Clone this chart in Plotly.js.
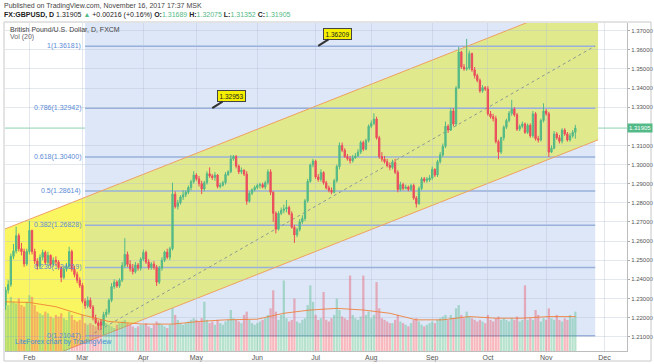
<!DOCTYPE html>
<html><head><meta charset="utf-8">
<script src="https://cdn.plot.ly/plotly-3.0.1.min.js"></script>
<style>html,body{margin:0;padding:0;background:#fff}#chart{width:654px;height:364px}</style>
</head><body><div id="chart"></div>
<script>
const dates = [
'2017-01-19','2017-01-20','2017-01-23','2017-01-24','2017-01-25','2017-01-26','2017-01-27','2017-01-30','2017-01-31',
'2017-02-01','2017-02-02','2017-02-03','2017-02-06','2017-02-07','2017-02-08','2017-02-09','2017-02-10','2017-02-13','2017-02-14','2017-02-15','2017-02-16','2017-02-17','2017-02-20','2017-02-21','2017-02-22','2017-02-23','2017-02-24','2017-02-27','2017-02-28',
'2017-03-01','2017-03-02','2017-03-03','2017-03-06','2017-03-07','2017-03-08','2017-03-09','2017-03-10','2017-03-13','2017-03-14','2017-03-15','2017-03-16','2017-03-17','2017-03-20','2017-03-21','2017-03-22','2017-03-23','2017-03-24','2017-03-27','2017-03-28','2017-03-29','2017-03-30','2017-03-31',
'2017-04-03','2017-04-04','2017-04-05','2017-04-06','2017-04-07','2017-04-10','2017-04-11','2017-04-12','2017-04-13','2017-04-14','2017-04-17','2017-04-18','2017-04-19','2017-04-20','2017-04-21','2017-04-24','2017-04-25','2017-04-26','2017-04-27','2017-04-28',
'2017-05-01','2017-05-02','2017-05-03','2017-05-04','2017-05-05','2017-05-08','2017-05-09','2017-05-10','2017-05-11','2017-05-12','2017-05-15','2017-05-16','2017-05-17','2017-05-18','2017-05-19','2017-05-22','2017-05-23','2017-05-24','2017-05-25','2017-05-26','2017-05-29','2017-05-30','2017-05-31',
'2017-06-01','2017-06-02','2017-06-05','2017-06-06','2017-06-07','2017-06-08','2017-06-09','2017-06-12','2017-06-13','2017-06-14','2017-06-15','2017-06-16','2017-06-19','2017-06-20','2017-06-21','2017-06-22','2017-06-23','2017-06-26','2017-06-27','2017-06-28','2017-06-29','2017-06-30',
'2017-07-03','2017-07-04','2017-07-05','2017-07-06','2017-07-07','2017-07-10','2017-07-11','2017-07-12','2017-07-13','2017-07-14','2017-07-17','2017-07-18','2017-07-19','2017-07-20','2017-07-21','2017-07-24','2017-07-25','2017-07-26','2017-07-27','2017-07-28','2017-07-31',
'2017-08-01','2017-08-02','2017-08-03','2017-08-04','2017-08-07','2017-08-08','2017-08-09','2017-08-10','2017-08-11','2017-08-14','2017-08-15','2017-08-16','2017-08-17','2017-08-18','2017-08-21','2017-08-22','2017-08-23','2017-08-24','2017-08-25','2017-08-28','2017-08-29','2017-08-30','2017-08-31',
'2017-09-01','2017-09-04','2017-09-05','2017-09-06','2017-09-07','2017-09-08','2017-09-11','2017-09-12','2017-09-13','2017-09-14','2017-09-15','2017-09-18','2017-09-19','2017-09-20','2017-09-21','2017-09-22','2017-09-25','2017-09-26','2017-09-27','2017-09-28','2017-09-29',
'2017-10-02','2017-10-03','2017-10-04','2017-10-05','2017-10-06','2017-10-09','2017-10-10','2017-10-11','2017-10-12','2017-10-13','2017-10-16','2017-10-17','2017-10-18','2017-10-19','2017-10-20','2017-10-23','2017-10-24','2017-10-25','2017-10-26','2017-10-27','2017-10-30','2017-10-31',
'2017-11-01','2017-11-02','2017-11-03','2017-11-06','2017-11-07','2017-11-08','2017-11-09','2017-11-10','2017-11-13','2017-11-14','2017-11-15','2017-11-16'
];
const open = [
1.2266,1.2344,1.2372,1.2520,1.2548,1.2628,1.2560,1.2545,1.2480,1.2545,
1.2655,1.2545,1.2495,1.2468,1.2515,1.2540,1.2488,1.2525,1.2478,1.2500,
1.2490,1.2462,1.2410,1.2452,1.2468,1.2545,1.2452,1.2425,1.2395,1.2368,
1.2285,1.2262,1.2290,1.2255,1.2198,1.2172,1.2175,1.2158,1.2215,1.2228,
1.2290,1.2362,1.2385,1.2365,1.2395,1.2472,1.2530,1.2478,1.2455,1.2440,
1.2475,1.2458,1.2505,1.2540,1.2490,1.2462,1.2480,1.2462,1.2385,1.2458,
1.2500,1.2542,1.2515,1.2560,1.2845,1.2780,1.2800,1.2830,1.2842,1.2855,
1.2880,1.2910,1.2945,1.2925,1.2900,1.2872,1.2905,1.2952,1.2940,1.2932,
1.2945,1.2885,1.2892,1.2905,1.2948,1.2962,1.3030,1.3042,1.2992,1.2962,
1.2970,1.2950,1.2808,1.2850,1.2868,1.2880,1.2890,1.2895,1.2882,1.2905,
1.2962,1.2855,1.2745,1.2662,1.2745,1.2760,1.2768,1.2775,1.2742,1.2672,
1.2632,1.2660,1.2700,1.2718,1.2810,1.2912,1.2998,1.3018,1.2935,1.2922,
1.2958,1.2905,1.2878,1.2866,1.2855,1.2915,1.2990,1.3100,1.3075,1.3042,
1.3030,1.3020,1.3035,1.3045,1.3065,1.3115,1.3080,1.3125,1.3200,1.3215,
1.3238,1.3140,1.3042,1.3028,1.3015,1.2995,1.2985,1.3010,1.2960,1.2870,
1.2895,1.2875,1.2882,1.2870,1.2890,1.2825,1.2795,1.2875,1.2925,1.2915,
1.2920,1.2930,1.2975,1.2945,1.3015,1.3050,1.3095,1.3200,1.3180,1.3280,
1.3212,1.3400,1.3588,1.3510,1.3500,1.3505,1.3580,1.3495,1.3465,1.3440,
1.3385,1.3402,1.3395,1.3265,1.3250,1.3240,1.3120,1.3065,1.3140,1.3195,
1.3230,1.3268,1.3290,1.3260,1.3185,1.3200,1.3212,1.3168,1.3205,1.3150,
1.3265,1.3135,1.3128,1.3230,1.3280,1.3265,1.3065,1.3085,1.3160,1.3140,
1.3122,1.3180,1.3160,1.3128,1.3150,1.31689
];
const high = [
1.2360,1.2395,1.2535,1.2585,1.2675,1.2640,1.2590,1.2560,1.2560,1.2705,
1.2660,1.2560,1.2510,1.2530,1.2555,1.2550,1.2545,1.2530,1.2515,1.2520,
1.2500,1.2470,1.2470,1.2485,1.2570,1.2555,1.2470,1.2440,1.2410,1.2380,
1.2300,1.2310,1.2305,1.2265,1.2215,1.2185,1.2190,1.2230,1.2245,1.2300,
1.2380,1.2400,1.2395,1.2405,1.2490,1.2615,1.2545,1.2500,1.2480,1.2490,
1.2485,1.2515,1.2555,1.2550,1.2505,1.2490,1.2495,1.2475,1.2470,1.2515,
1.2550,1.2560,1.2570,1.2905,1.2860,1.2815,1.2840,1.2865,1.2865,1.2890,
1.2920,1.2965,1.2955,1.2940,1.2915,1.2915,1.2965,1.2985,1.2950,1.2960,
1.2950,1.2905,1.2915,1.2960,1.2970,1.3050,1.3050,1.3050,1.3000,1.2985,
1.2975,1.2965,1.2860,1.2875,1.2890,1.2900,1.2905,1.2905,1.2915,1.2975,
1.2975,1.2860,1.2755,1.2755,1.2775,1.2790,1.2815,1.2785,1.2755,1.2685,
1.2670,1.2715,1.2735,1.2820,1.2925,1.3005,1.3030,1.3025,1.2950,1.2975,
1.2965,1.2915,1.2890,1.2880,1.2925,1.3000,1.3115,1.3115,1.3085,1.3055,
1.3045,1.3050,1.3060,1.3080,1.3125,1.3125,1.3135,1.3210,1.3230,1.3268,
1.3250,1.3150,1.3065,1.3045,1.3030,1.3010,1.3025,1.3030,1.2970,1.2910,
1.2905,1.2895,1.2890,1.2900,1.2900,1.2835,1.2885,1.2935,1.2935,1.2935,
1.2945,1.2990,1.2980,1.3025,1.3065,1.3110,1.3225,1.3210,1.3295,1.3295,
1.3410,1.3615,1.3595,1.3525,1.3657,1.3595,1.3585,1.3510,1.3475,1.3450,
1.3415,1.3410,1.3410,1.3280,1.3265,1.3255,1.3130,1.3145,1.3205,1.3240,
1.3280,1.3338,1.3300,1.3270,1.3210,1.3225,1.3220,1.3215,1.3215,1.3280,
1.3275,1.3150,1.3240,1.3320,1.3290,1.3275,1.3100,1.3175,1.3170,1.3155,
1.3190,1.3190,1.3170,1.3165,1.3180,1.32075
];
const low = [
1.2240,1.2325,1.2360,1.2505,1.2535,1.2545,1.2525,1.2465,1.2470,1.2530,
1.2530,1.2480,1.2450,1.2455,1.2500,1.2475,1.2470,1.2460,1.2465,1.2470,
1.2450,1.2385,1.2400,1.2440,1.2455,1.2440,1.2410,1.2380,1.2355,1.2275,
1.2245,1.2250,1.2245,1.2185,1.2165,1.2135,1.2140,1.2109,1.2200,1.2215,
1.2280,1.2350,1.2355,1.2355,1.2385,1.2460,1.2465,1.2440,1.2425,1.2430,
1.2445,1.2445,1.2495,1.2480,1.2450,1.2450,1.2450,1.2365,1.2375,1.2445,
1.2490,1.2505,1.2500,1.2550,1.2770,1.2765,1.2790,1.2815,1.2830,1.2845,
1.2865,1.2900,1.2915,1.2885,1.2845,1.2860,1.2895,1.2930,1.2920,1.2915,
1.2875,1.2875,1.2885,1.2895,1.2940,1.2955,1.3020,1.2980,1.2950,1.2950,
1.2940,1.2790,1.2800,1.2840,1.2860,1.2870,1.2875,1.2875,1.2870,1.2895,
1.2840,1.2700,1.2640,1.2655,1.2735,1.2745,1.2750,1.2735,1.2665,1.2590,
1.2620,1.2650,1.2690,1.2705,1.2800,1.2905,1.2985,1.2925,1.2910,1.2910,
1.2895,1.2870,1.2855,1.2845,1.2850,1.2905,1.2975,1.3065,1.3035,1.3020,
1.3005,1.3010,1.3030,1.3040,1.3055,1.3070,1.3075,1.3115,1.3190,1.3205,
1.3130,1.3030,1.3015,1.3005,1.2985,1.2970,1.2975,1.2950,1.2855,1.2860,
1.2865,1.2870,1.2860,1.2860,1.2815,1.2775,1.2790,1.2865,1.2905,1.2905,
1.2910,1.2920,1.2935,1.2935,1.3005,1.3040,1.3085,1.3165,1.3175,1.3200,
1.3200,1.3395,1.3500,1.3490,1.3490,1.3495,1.3485,1.3450,1.3430,1.3375,
1.3375,1.3385,1.3255,1.3240,1.3225,1.3110,1.3027,1.3055,1.3125,1.3185,
1.3220,1.3255,1.3250,1.3175,1.3175,1.3190,1.3160,1.3160,1.3140,1.3140,
1.3125,1.3115,1.3120,1.3220,1.3255,1.3040,1.3060,1.3080,1.3130,1.3110,
1.3110,1.3150,1.3120,1.3120,1.3140,1.31352
];
const close = [
1.2344,1.2372,1.2520,1.2548,1.2628,1.2560,1.2545,1.2480,1.2545,1.2655,
1.2545,1.2495,1.2468,1.2515,1.2540,1.2488,1.2525,1.2478,1.2500,1.2490,
1.2462,1.2410,1.2452,1.2468,1.2545,1.2452,1.2425,1.2395,1.2368,1.2285,
1.2262,1.2290,1.2255,1.2198,1.2172,1.2158,1.2160,1.2215,1.2228,1.2290,
1.2362,1.2385,1.2365,1.2395,1.2472,1.2530,1.2478,1.2455,1.2440,1.2475,
1.2458,1.2505,1.2540,1.2490,1.2462,1.2480,1.2462,1.2385,1.2458,1.2500,
1.2542,1.2515,1.2560,1.2845,1.2780,1.2800,1.2830,1.2842,1.2855,1.2880,
1.2910,1.2945,1.2925,1.2900,1.2872,1.2905,1.2952,1.2940,1.2932,1.2945,
1.2885,1.2892,1.2905,1.2948,1.2962,1.3030,1.3042,1.2992,1.2962,1.2970,
1.2950,1.2808,1.2850,1.2868,1.2880,1.2890,1.2895,1.2882,1.2905,1.2962,
1.2855,1.2745,1.2662,1.2745,1.2760,1.2768,1.2775,1.2742,1.2672,1.2632,
1.2660,1.2700,1.2718,1.2810,1.2912,1.2998,1.3018,1.2935,1.2922,1.2958,
1.2905,1.2878,1.2866,1.2855,1.2915,1.2990,1.3100,1.3075,1.3042,1.3030,
1.3020,1.3035,1.3045,1.3065,1.3115,1.3080,1.3125,1.3200,1.3215,1.3238,
1.3140,1.3042,1.3028,1.3015,1.2995,1.2985,1.3010,1.2960,1.2870,1.2895,
1.2875,1.2882,1.2870,1.2890,1.2825,1.2795,1.2875,1.2925,1.2915,1.2925,
1.2930,1.2975,1.2945,1.3015,1.3050,1.3095,1.3200,1.3180,1.3280,1.3212,
1.3400,1.3588,1.3510,1.3500,1.3505,1.3580,1.3495,1.3465,1.3440,1.3385,
1.3402,1.3395,1.3265,1.3250,1.3240,1.3120,1.3065,1.3140,1.3195,1.3230,
1.3268,1.3290,1.3260,1.3185,1.3200,1.3212,1.3168,1.3205,1.3150,1.3265,
1.3135,1.3128,1.3230,1.3280,1.3265,1.3065,1.3085,1.3160,1.3140,1.3122,
1.3180,1.3160,1.3128,1.3150,1.31689,1.31905
];
const volume = [
150,140,165,150,145,160,140,135,150,170,
165,140,120,115,110,120,115,105,100,110,
105,115,100,95,120,110,95,90,95,
110,85,80,85,80,75,80,95,90,85,80,
75,70,80,85,90,95,85,80,75,70,75,80,
80,85,75,70,80,90,85,80,75,70,80,
130,110,95,85,80,85,90,95,100,
95,90,100,150,95,85,90,80,95,85,80,90,95,125,100,
95,90,85,110,120,95,85,80,85,90,95,100,110,
130,185,120,95,110,215,100,90,95,160,90,85,95,100,140,200,150,
110,95,100,180,95,90,100,110,160,125,105,100,95,230,
110,100,95,105,230,110,120,100,110,210,130,100,95,90,85,
85,95,110,90,85,80,75,85,95,100,90,80,75,80,85,
90,85,95,100,105,110,95,110,100,130,140,110,100,120,105,
100,95,90,95,90,85,110,95,90,100,105,95,100,95,90,
100,95,105,90,95,200,95,100,95,125,110,90,100,95,130,
100,95,110,95,90,100,95,110,100,120
];
const maDates = ['2017-01-19','2017-02-01','2017-02-15','2017-03-01','2017-03-15','2017-04-03','2017-04-18','2017-05-02','2017-05-16','2017-06-01','2017-06-15','2017-06-29','2017-07-13','2017-07-27','2017-08-10','2017-08-24','2017-09-07','2017-09-21','2017-10-05','2017-10-19','2017-11-02','2017-11-16'];
const maValues = [150,148,135,110,90,82,82,90,95,97,115,125,130,125,115,95,95,105,100,100,105,105];
const fibRatios = [0, 0.236, 0.382, 0.5, 0.618, 0.786, 1];
const fibPrices = [1.21047, 1.24619, 1.26828, 1.28614, 1.30400, 1.32942, 1.36181];
const monthTicks = ['2017-02-01','2017-03-01','2017-04-03','2017-05-01','2017-06-01','2017-07-03','2017-08-01','2017-09-01','2017-10-02','2017-11-01','2017-12-01'];
const monthLabels = ['Feb','Mar','Apr','May','Jun','Jul','Aug','Sep','Oct','Nov','Dec'];
const priceTicks = [1.21,1.22,1.23,1.24,1.25,1.26,1.27,1.28,1.29,1.30,1.31,1.33,1.34,1.35,1.36,1.37];
const lastPrice = 1.31905;
const notes = [{date:'2017-05-09', price:1.32953}, {date:'2017-07-04', price:1.36209}];

const FONT = '"Liberation Sans", Arial, sans-serif';
const UP = '#53b987', DN = '#eb4d5c';
const volColors = close.map((c,i)=> c>=open[i] ? 'rgba(83,185,135,0.42)' : 'rgba(235,77,92,0.40)');

const traces = [
  {type:'bar', x:dates, y:volume, yaxis:'y2', marker:{color:volColors, line:{width:0}}, hoverinfo:'skip'},
  {type:'scatter', mode:'lines', x:maDates, y:maValues, yaxis:'y2', line:{color:'rgba(240,125,50,0.85)', width:1}, hoverinfo:'skip'},
  {type:'candlestick', x:dates, open:open, high:high, low:low, close:close,
   increasing:{line:{color:UP,width:1}, fillcolor:UP},
   decreasing:{line:{color:DN,width:1}, fillcolor:DN}, whiskerwidth:0}
];

// channel drawing anchors (left edge, fib start, right end)
const L = '2017-01-18 19:00', M = '2017-03-02', R = '2017-11-28 14:00';
const Lp = L.replace(' ', '_'), Rp = R.replace(' ', '_');
const chUp = [1.2663, 1.2828, 1.3889], chLo = [1.1904, 1.2069, 1.3129];
const shapes = [
  {type:'rect', layer:'below', xref:'x', yref:'y', x0:M, x1:'2017-11-27 12:00', y0:fibPrices[0], y1:1.40, fillcolor:'#dde7f8', line:{width:0}},
  {type:'path', layer:'below', xref:'x', yref:'y', path:`M${Lp},${chUp[0]}L${M},${chUp[1]}L${M},${chLo[1]}L${Lp},${chLo[0]}Z`, fillcolor:'rgba(248,245,70,0.85)', line:{width:0}},
  {type:'path', layer:'below', xref:'x', yref:'y', path:`M${M},${chUp[1]}L${Rp},${chUp[2]}L${Rp},${chLo[2]}L${M},${chLo[1]}Z`, fillcolor:'#e1e98d', line:{width:0}},
];
fibPrices.forEach(p=> shapes.push({type:'line', layer:'below', xref:'x', yref:'y', x0:M, x1:'2017-11-27 12:00', y0:p, y1:p, line:{color:'#98b0da', width:1.5}}));
shapes.push(
  {type:'line', layer:'below', xref:'x', yref:'y', x0:L, x1:R, y0:chUp[0], y1:chUp[2], line:{color:'#f0a060', width:1}},
  {type:'line', layer:'below', xref:'x', yref:'y', x0:L, x1:R, y0:chLo[0], y1:chLo[2], line:{color:'#f0a060', width:1}},
  {type:'line', layer:'below', xref:'x', yref:'y', x0:'2017-03-07 12:00', x1:'2017-11-27 12:00', y0:1.2119, y1:1.3620, line:{color:'#8c9a90', width:1, dash:'dot'}},
  {type:'line', layer:'below', xref:'paper', yref:'y', x0:0, x1:1, y0:lastPrice, y1:lastPrice, line:{color:'rgba(83,185,135,0.65)', width:1}},
  {type:'rect', xref:'paper', yref:'paper', x0:-0.0016, x1:1.0386, y0:-0.0305, y1:1.003, line:{color:'#c8c8c8', width:1}, fillcolor:'rgba(0,0,0,0)'}
);

const annotations = [
  {xref:'paper', yref:'paper', x:-0.0048, y:1.0518, xanchor:'left', yanchor:'middle', showarrow:false,
   text:'Published on TradingView.com, November 16, 2017 17:37 MSK', font:{size:7, color:'#444'}},
  {xref:'paper', yref:'paper', x:-0.0048, y:1.0244, xanchor:'left', yanchor:'middle', showarrow:false,
   text:'<b>FX:GBPUSD, D</b> 1.31905 <span style="color:#53b987">▲</span> +0.00216 (+0.16%) <b>O:</b><span style="color:#53b987">1.31689</span> <b>H:</b><span style="color:#53b987">1.32075</span> <b>L:</b><span style="color:#53b987">1.31352</span> <b>C:</b><span style="color:#53b987">1.31905</span>',
   font:{size:7, color:'#222'}},
  {xref:'paper', yref:'paper', x:0.0048, y:0.9817, xanchor:'left', yanchor:'middle', showarrow:false,
   text:'British Pound/U.S. Dollar, D, FXCM', font:{size:7, color:'#444'}},
  {xref:'paper', yref:'paper', x:0.0048, y:0.9573, xanchor:'left', yanchor:'middle', showarrow:false,
   text:'Vol (20)', font:{size:7, color:'#666'}},
  {xref:'paper', yref:'paper', x:0.0129, y:0.0274, xanchor:'left', yanchor:'middle', showarrow:false,
   text:'LiteForex chart by TradingView', font:{size:7, color:'#3d8fd8'}},
  {xref:'paper', yref:'y', x:1.0, y:lastPrice, xanchor:'left', yanchor:'middle', showarrow:false,
   text:lastPrice.toFixed(5), bgcolor:UP, borderpad:1, font:{size:6, color:'#fff'}}
];
fibRatios.forEach((r,k)=> annotations.push({xref:'paper', yref:'y', x:0.1254, y:fibPrices[k], xanchor:'right', yanchor:'middle', showarrow:false,
  text: r + '(' + fibPrices[k].toFixed(5) + ')', font:{size:7, color:'#5b8bd6'}}));
notes.forEach(n=> annotations.push({xref:'x', yref:'y', x:n.date, y:n.price, text:n.price.toFixed(5), showarrow:true,
  arrowhead:0, arrowwidth:2, arrowcolor:'#333', ax:19, ay:-12, standoff:0, bgcolor:'#f4f000', bordercolor:'#444', borderwidth:1, borderpad:1.5,
  font:{size:6.5, color:'#222'}}));

const layout = {
  width:654, height:364, margin:{l:5, r:27, t:23, b:13},
  paper_bgcolor:'#fff', plot_bgcolor:'#fff', showlegend:false, bargap:0.15,
  font:{family:FONT, size:7, color:'#555'},
  xaxis:{type:'date', range:[L, '2017-12-13 12:00'], rangebreaks:[{bounds:['sat','mon']}], rangeslider:{visible:false},
    tickmode:'array', tickvals:monthTicks, ticktext:monthLabels, ticks:'', tickfont:{size:7, color:'#555'},
    showgrid:true, gridcolor:'rgba(175,188,210,0.35)', gridwidth:1, showline:true, linecolor:'#bdbdbd', zeroline:false, fixedrange:true},
  yaxis:{side:'right', range:[1.2025, 1.3740], tickmode:'array', tickvals:priceTicks, tickformat:'.5f',
    ticks:'outside', ticklen:2, tickcolor:'#aaa', showgrid:true, gridcolor:'rgba(175,188,210,0.35)',
    showline:true, linecolor:'#bdbdbd', zeroline:false, tickfont:{size:6, color:'#555'}, fixedrange:true},
  yaxis2:{overlaying:'y', range:[0, 1000], visible:false, fixedrange:true},
  shapes:shapes, annotations:annotations
};
Plotly.newPlot('chart', traces, layout, {displayModeBar:false, staticPlot:true});
</script>
</body></html>
